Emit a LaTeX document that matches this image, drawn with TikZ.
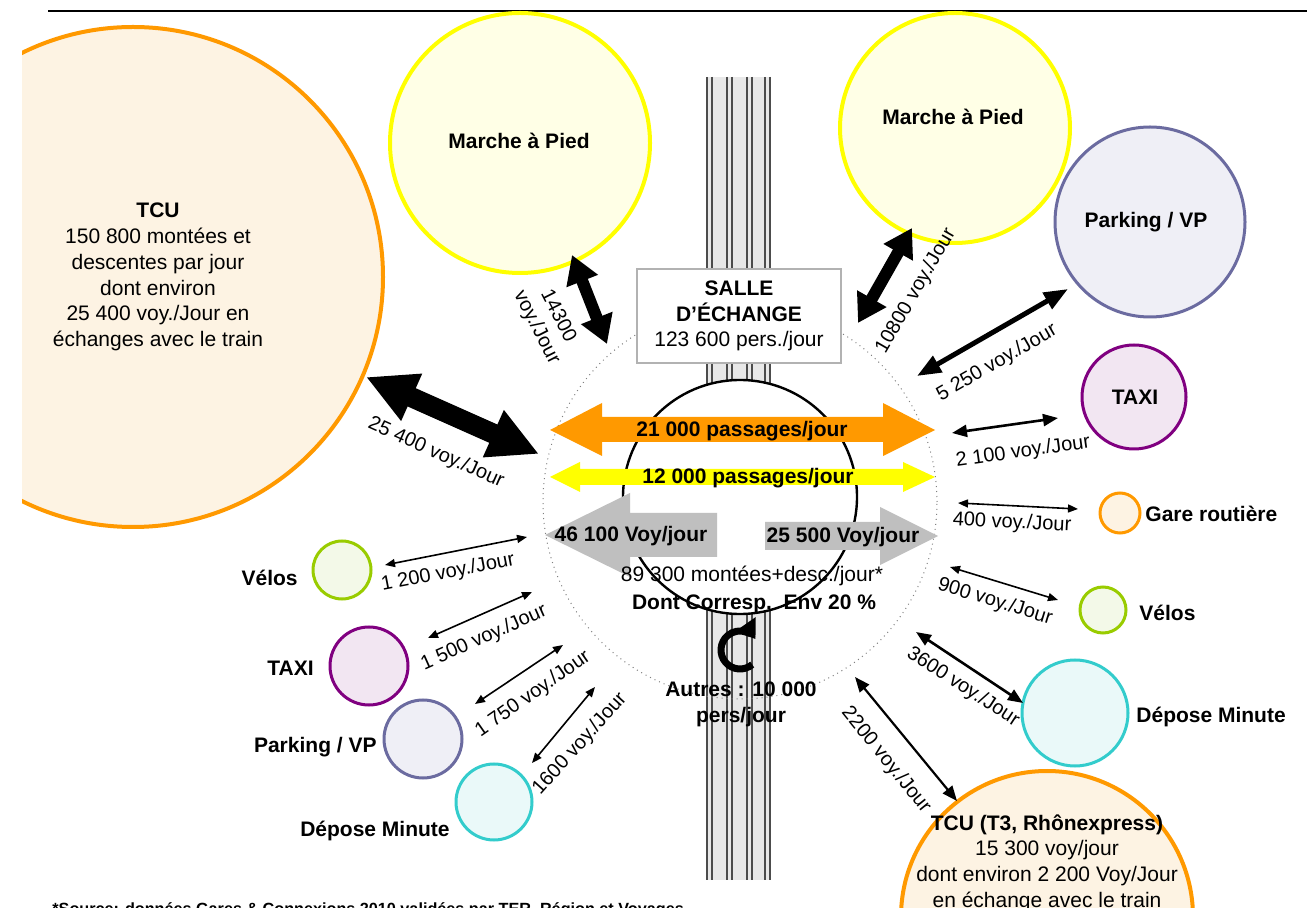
\documentclass[tikz,border=0pt]{standalone}
\usepackage{fontspec}
\setmainfont{Liberation Sans}
\usetikzlibrary{arrows.meta}

\definecolor{tcuorange}{HTML}{FF9900}
\definecolor{tcufill}{HTML}{FDF3E3}
\definecolor{walkyellow}{HTML}{FFFF00}
\definecolor{walkfill}{HTML}{FFFFE6}
\definecolor{parkline}{HTML}{6B6BA0}
\definecolor{parkfill}{HTML}{EFEFF6}
\definecolor{taxiline}{HTML}{800080}
\definecolor{taxifill}{HTML}{F2E6F2}
\definecolor{bikeline}{HTML}{99CC00}
\definecolor{bikefill}{HTML}{F3F9E8}
\definecolor{dropline}{HTML}{33CCCC}
\definecolor{dropfill}{HTML}{EAF9F9}
\definecolor{flowgrey}{HTML}{BFBFBF}
\definecolor{bandfill}{HTML}{E8E8E8}

\tikzset{
  ring/.style={circle, inner sep=0pt, line width=1.5pt},
  title/.style={font=\fontsize{10.5}{12.9}\selectfont\bfseries, inner sep=0pt},
  body/.style={font=\fontsize{10.5}{12.9}\selectfont, inner sep=0pt},
  flowlbl/.style={font=\fontsize{10}{12}\selectfont, inner sep=0pt},
  thinflow/.style={line width=0.8pt, {Triangle[length=5pt,width=4pt]}-{Triangle[length=5pt,width=4pt]}},
  midflow/.style={line width=1.3pt, {Triangle[length=7.5pt,width=6pt]}-{Triangle[length=7.5pt,width=6pt]}},
  wideflow/.style={line width=2.5pt, {Triangle[length=12pt,width=9pt]}-{Triangle[length=12pt,width=9pt]}},
  thickflow/.style={line width=6pt, {Triangle[length=14pt,width=16pt]}-{Triangle[length=14pt,width=16pt]}},
  heavyflow/.style={line width=10pt, {Triangle[length=25pt,width=24pt]}-{Triangle[length=25pt,width=24pt]}},
}

\begin{document}
\begin{tikzpicture}[x=0.5pt, y=-0.5pt]
\useasboundingbox (0,0) rectangle (1307,908);
\clip (0,0) rectangle (1307,908);

% header rule
\draw[line width=0.8pt] (48,11) -- (1307,11);

% railway tracks through the station
\fill[bandfill] (707,77) rectangle (770,880);
\foreach \x in {707,712,727,732,747,752,765,770}
  \draw[line width=0.6pt, black!70] (\x,77) -- (\x,880);

% station hub: outer zone and inner hall
\node[circle, draw=gray, dotted, line width=0.5pt, minimum size=197pt, inner sep=0pt] (hub) at (740,502) {};
\node[circle, draw, fill=white, line width=1.2pt, minimum size=117pt, inner sep=0pt] (hall) at (740,497) {};

% exchange hall box
\node[draw=black!30, fill=white, line width=0.6pt, minimum width=102pt, minimum height=47pt,
      align=center, font=\fontsize{10.5}{12.6}\selectfont] (salle) at (739,316)
  {\bfseries SALLE\\ \bfseries D’ÉCHANGE\\ 123 600 pers./jour};

% through-flows across the hall
\fill[tcuorange] (550,430) -- (602,403) -- (602,417) -- (883,417) -- (883,403) -- (935,430)
  -- (883,456) -- (883,442) -- (602,442) -- (602,456) -- cycle;
\node[title] (pass21) at (742,431) {21 000 passages/jour};
\fill[walkyellow] (550,477) -- (580,462) -- (580,469) -- (903,469) -- (903,462) -- (935,477)
  -- (903,492) -- (903,485) -- (580,485) -- (580,492) -- cycle;
\node[title] (pass12) at (748,478) {12 000 passages/jour};

% train boardings and alightings
\fill[flowgrey] (545,535) -- (630,493) -- (630,513) -- (717,513) -- (717,557) -- (630,557) -- (630,577) -- cycle;
\node[title] (voy46) at (631,536) {46 100 Voy/jour};
\fill[flowgrey] (765,522) -- (880,522) -- (880,507) -- (938,536) -- (880,565) -- (880,550) -- (765,550) -- cycle;
\node[title] (voy25) at (843,537) {25 500 Voy/jour};

\node[body] (montees) at (752,576) {89 300 montées+desc./jour*};
\node[title] (corresp) at (754,604) {Dont Corresp.\ \ Env 20 \%};

% other movements
\draw[line width=3.5pt, -{Triangle[length=9pt,width=12pt]}] (740,650) ++(50:19) arc[start angle=50, end angle=325, radius=19];
\node[title, align=center] (autres) at (741,704) {Autres : 10 000\\pers/jour};

% urban transit, left
\begin{scope}
  \clip (22,0) rectangle (1307,908);
  \node[ring, draw=tcuorange, fill=tcufill, line width=2pt, minimum size=250pt] (tcu) at (133,277) {};
\end{scope}
\node[body, align=center] (tcutext) at (158,277)
  {\bfseries TCU\\150 800 montées et\\descentes par jour\\dont environ\\25 400 voy./Jour en\\échanges avec le train};

% walking
\node[ring, draw=walkyellow, fill=walkfill, line width=2pt, minimum size=130pt] (walkL) at (520,143) {};
\node[title] (walkLtext) at (519,141) {Marche à Pied};
\node[ring, draw=walkyellow, fill=walkfill, line width=2pt, minimum size=115pt] (walkR) at (955,128) {};
\node[title] (walkRtext) at (953,117) {Marche à Pied};

% right-hand modes
\node[ring, draw=parkline, fill=parkfill, minimum size=95pt] (parkR) at (1150,222) {};
\node[title] (parkRtext) at (1146,222) {Parking / VP};
\node[ring, draw=taxiline, fill=taxifill, minimum size=52pt] (taxiR) at (1134,397) {};
\node[title] (taxiRtext) at (1135,397) {TAXI};
\node[ring, draw=tcuorange, fill=tcufill, minimum size=20pt] (gare) at (1120,513) {};
\node[title, anchor=west] (garetext) at (1145,514) {Gare routière};
\node[ring, draw=bikeline, fill=bikefill, minimum size=23pt] (veloR) at (1103,610) {};
\node[title, anchor=west] (veloRtext) at (1139,613) {Vélos};
\node[ring, draw=dropline, fill=dropfill, minimum size=53pt] (dropR) at (1075,713) {};
\node[title, anchor=west] (dropRtext) at (1136,717) {Dépose Minute};
\node[ring, draw=tcuorange, fill=tcufill, line width=2pt, minimum size=146pt] (tcuS) at (1047,917) {};
\node[body, align=center, anchor=north] (tcuStext) at (1047,814)
  {\bfseries TCU (T3, Rhônexpress)\\15 300 voy/jour\\dont environ 2 200 Voy/Jour\\en échange avec le train};

% left-hand modes
\node[ring, draw=bikeline, fill=bikefill, minimum size=29pt] (veloL) at (342,570) {};
\node[title, anchor=east] (veloLtext) at (298,578) {Vélos};
\node[ring, draw=taxiline, fill=taxifill, minimum size=39pt] (taxiL) at (369,666) {};
\node[title, anchor=east] (taxiLtext) at (314,668) {TAXI};
\node[ring, draw=parkline, fill=parkfill, minimum size=39pt] (parkL) at (423,739) {};
\node[title, anchor=east] (parkLtext) at (377,747) {Parking / VP};
\node[ring, draw=dropline, fill=dropfill, minimum size=38pt] (dropL) at (494,802) {};
\node[title, anchor=east] (dropLtext) at (450,831) {Dépose Minute};

% connector ends
\coordinate (eTcu) at (366,377);   \coordinate (hTcu) at (539,454);
\coordinate (eWalkL) at (572,255); \coordinate (hWalkL) at (607,344);
\coordinate (eWalkR) at (912,228); \coordinate (hWalkR) at (858,323);
\coordinate (eParkR) at (1068,289); \coordinate (hParkR) at (917,376);
\coordinate (eTaxiR) at (1058,418); \coordinate (hTaxiR) at (952,433);
\coordinate (eGare) at (1078,509);  \coordinate (hGare) at (958,503);
\coordinate (eVeloR) at (1058,600); \coordinate (hVeloR) at (950,567);
\coordinate (eDropR) at (1023,703); \coordinate (hDropR) at (916,632);
\coordinate (eTcuS) at (957,801);   \coordinate (hTcuS) at (855,677);
\coordinate (eVeloL) at (385,565);  \coordinate (hVeloL) at (527,537);
\coordinate (eTaxiL) at (428,638);  \coordinate (hTaxiL) at (532,592);
\coordinate (eParkL) at (475,704);  \coordinate (hParkL) at (563,645);
\coordinate (eDropL) at (532,763);  \coordinate (hDropL) at (595,687);

% flows between modes and the station
\draw[heavyflow] (eTcu) -- (hTcu);
\node[flowlbl, rotate=-24] (fTcu) at (436,453) {25 400 voy./Jour};
\draw[thickflow] (eWalkL) -- (hWalkL);
\node[flowlbl, rotate=-63, align=center] (fWalkL) at (547,322) {14300\\voy./Jour};
\draw[thickflow] (eWalkR) -- (hWalkR);
\node[flowlbl, rotate=60] (fWalkR) at (916,291) {10800 voy./Jour};
\draw[wideflow] (eParkR) -- (hParkR);
\node[flowlbl, rotate=30] (fParkR) at (997,363) {5 250 voy./Jour};
\draw[midflow] (eTaxiR) -- (hTaxiR);
\node[flowlbl, rotate=8] (fTaxiR) at (1023,452) {2 100 voy./Jour};
\draw[thinflow] (eGare) -- (hGare);
\node[flowlbl, rotate=-3] (fGare) at (1012,523) {400 voy./Jour};
\draw[thinflow] (eVeloR) -- (hVeloR);
\node[flowlbl, rotate=-17] (fVeloR) at (995,602) {900 voy./Jour};
\draw[midflow] (eDropR) -- (hDropR);
\node[flowlbl, rotate=-33] (fDropR) at (963,687) {3600 voy./Jour};
\draw[midflow, line width=1.1pt] (eTcuS) -- (hTcuS);
\node[flowlbl, rotate=-51] (fTcuS) at (886,760) {2200 voy./Jour};
\draw[thinflow] (eVeloL) -- (hVeloL);
\node[flowlbl, rotate=11] (fVeloL) at (448,573) {1 200 voy./Jour};
\draw[thinflow] (eTaxiL) -- (hTaxiL);
\node[flowlbl, rotate=24] (fTaxiL) at (484,638) {1 500 voy./Jour};
\draw[thinflow] (eParkL) -- (hParkL);
\node[flowlbl, rotate=35] (fParkL) at (533,694) {1 750 voy./Jour};
\draw[thinflow] (eDropL) -- (hDropL);
\node[flowlbl, rotate=48] (fDropL) at (580,744) {1600 voy./Jour};

% source note
\node[anchor=base west, inner sep=0pt, font=\fontsize{8.1}{10}\selectfont\bfseries] (source) at (52,914)
  {*Source: données Gares \& Connexions 2010 validées par TER, Région et Voyages};
\end{tikzpicture}
\end{document}
